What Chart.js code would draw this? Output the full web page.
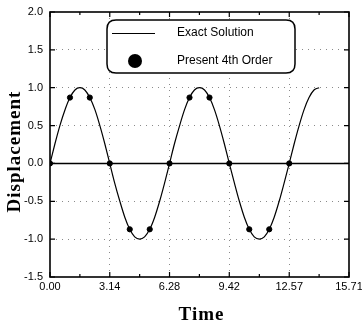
<!DOCTYPE html>
<html>
<head>
<meta charset="utf-8">
<script src="https://cdn.jsdelivr.net/npm/chart.js@4"></script>
<style>
html,body{margin:0;padding:0;background:#fff;}
#wrap{position:relative;width:362px;height:323px;}
</style>
</head>
<body>
<div id="wrap"><canvas id="c" width="362" height="323"></canvas></div>
<script>
// Exact solution curve
const exactTime = [0,0.26,0.52,0.79,1.05,1.31,1.57,1.83,2.09,2.36,2.62,2.88,3.14,3.40,3.67,3.93,4.19,4.45,4.71,4.97,5.24,5.50,5.76,6.02,6.28,6.54,6.81,7.07,7.33,7.59,7.85,8.12,8.38,8.64,8.90,9.16,9.42,9.69,9.95,10.21,10.47,10.73,11.00,11.26,11.52,11.78,12.04,12.30,12.57,12.83,13.09,13.35,13.61,13.87,14.14];
const exactDisp = [0,0.26,0.5,0.71,0.87,0.97,1,0.97,0.87,0.71,0.5,0.26,0,-0.26,-0.5,-0.71,-0.87,-0.97,-1,-0.97,-0.87,-0.71,-0.5,-0.26,0,0.26,0.5,0.71,0.87,0.97,1,0.97,0.87,0.71,0.5,0.26,0,-0.26,-0.5,-0.71,-0.87,-0.97,-1,-0.97,-0.87,-0.71,-0.5,-0.26,0,0.26,0.5,0.71,0.87,0.97,1];
// Present 4th order points
const presentTime = [0,1.05,2.09,3.14,4.19,5.24,6.28,7.33,8.38,9.42,10.47,11.52,12.57];
const presentDisp = [0,0.87,0.87,0,-0.87,-0.87,0,0.87,0.87,0,-0.87,-0.87,0];
// Tick values
const xTicks = [0,3.14,6.28,9.42,12.57,15.71];
const xMinorTicks = [1.57,4.71,7.85,11.0,14.14];
const yTicks = [-1.5,-1.0,-0.5,0.0,0.5,1.0,1.5,2.0];
const seriesLabels = ['Exact Solution','Present 4th Order'];
const xTitle = 'Time';
const yTitle = 'Displacement';

const tickFont = {family:'Liberation Sans, Arial, sans-serif', size:11};
const titleFontCss = 'bold 19px "Liberation Serif", "Times New Roman", serif';

const framePlugin = {
  id:'frame',
  beforeDatasetsDraw(chart){
    const {ctx, chartArea:a, scales:{x,y}} = chart;
    ctx.save();
    ctx.strokeStyle='#000'; ctx.lineWidth=1.6;
    const y0 = y.getPixelForValue(0);
    ctx.beginPath(); ctx.moveTo(a.left,y0); ctx.lineTo(a.right,y0); ctx.stroke();
    ctx.restore();
  },
  afterDraw(chart){
    const {ctx, chartArea:a, scales:{x,y}} = chart;
    ctx.save();
    ctx.strokeStyle='#000';
    ctx.lineWidth=1.6;
    ctx.strokeRect(a.left,a.top,a.right-a.left,a.bottom-a.top);
    ctx.lineWidth=1.2;
    ctx.beginPath();
    xTicks.forEach(v=>{const p=x.getPixelForValue(v); ctx.moveTo(p,a.bottom); ctx.lineTo(p,a.bottom-5); ctx.moveTo(p,a.top); ctx.lineTo(p,a.top+5);});
    xMinorTicks.forEach(v=>{const p=x.getPixelForValue(v); ctx.moveTo(p,a.bottom); ctx.lineTo(p,a.bottom-3); ctx.moveTo(p,a.top); ctx.lineTo(p,a.top+3);});
    yTicks.forEach(v=>{const p=y.getPixelForValue(v); ctx.moveTo(a.left,p); ctx.lineTo(a.left+5,p); ctx.moveTo(a.right,p); ctx.lineTo(a.right-5,p);});
    ctx.stroke();
    // legend
    const bx=107, by=20, bw=188, bh=53, r=9;
    ctx.beginPath();
    ctx.moveTo(bx+r,by); ctx.lineTo(bx+bw-r,by); ctx.quadraticCurveTo(bx+bw,by,bx+bw,by+r);
    ctx.lineTo(bx+bw,by+bh-r); ctx.quadraticCurveTo(bx+bw,by+bh,bx+bw-r,by+bh);
    ctx.lineTo(bx+r,by+bh); ctx.quadraticCurveTo(bx,by+bh,bx,by+bh-r);
    ctx.lineTo(bx,by+r); ctx.quadraticCurveTo(bx,by,bx+r,by);
    ctx.closePath();
    ctx.fillStyle='#fff'; ctx.fill();
    ctx.lineWidth=1.5; ctx.stroke();
    ctx.lineWidth=1;
    ctx.beginPath(); ctx.moveTo(112,33.5); ctx.lineTo(155,33.5); ctx.stroke();
    ctx.beginPath(); ctx.arc(135,61,7,0,Math.PI*2); ctx.fillStyle='#000'; ctx.fill();
    ctx.font='12px "Liberation Sans", Arial, sans-serif';
    ctx.textBaseline='middle'; ctx.textAlign='left';
    ctx.fillText(seriesLabels[0],177,33);
    ctx.fillText(seriesLabels[1],177,61);
    // axis titles
    ctx.font = titleFontCss;
    ctx.textAlign='center'; ctx.textBaseline='alphabetic';
    ctx.letterSpacing = '1px';
    ctx.fillText(xTitle, (a.left+a.right)/2 + 2, 320);
    ctx.letterSpacing = '1px';
    ctx.translate(20, (a.top+a.bottom)/2 + 7);
    ctx.rotate(-Math.PI/2);
    ctx.fillText(yTitle, 0, 0);
    ctx.restore();
  }
};

new Chart(document.getElementById('c'), {
  type:'scatter',
  data:{
    datasets:[
      {label:seriesLabels[0], data:exactTime.map((t,i)=>({x:t,y:exactDisp[i]})), showLine:true, borderColor:'#000', borderWidth:1.2, pointRadius:0, cubicInterpolationMode:'monotone', order:2},
      {label:seriesLabels[1], data:presentTime.map((t,i)=>({x:t,y:presentDisp[i]})), showLine:false, pointRadius:2.6, pointBackgroundColor:'#000', pointBorderColor:'#000', order:1}
    ]
  },
  options:{
    responsive:false, animation:false, devicePixelRatio:1,
    layout:{padding:{top:12,right:13,left:0,bottom:0}},
    plugins:{legend:{display:false}, tooltip:{enabled:false}},
    scales:{
      x:{
        type:'linear', min:0, max:15.71,
        afterBuildTicks(s){ s.ticks = xTicks.map(v=>({value:v})); },
        afterFit(s){ s.height = 46; s.paddingLeft = 0; s.paddingRight = 0; },
        ticks:{color:'#000', font:tickFont, padding:3, maxRotation:0, autoSkip:false, callback:v=>Number(v).toFixed(2)},
        grid:{color:ctx=>(ctx.tick && (ctx.tick.value===0||ctx.tick.value===15.71))?'rgba(0,0,0,0)':'#8a8a8a', lineWidth:1, drawTicks:false},
        border:{display:false, dash:[1,5]},
        title:{display:false}
      },
      y:{
        type:'linear', min:-1.5, max:2.0,
        afterBuildTicks(s){ s.ticks = yTicks.map(v=>({value:v})); },
        afterFit(s){ s.width = 50; s.paddingTop = 0; s.paddingBottom = 0; },
        ticks:{color:'#000', font:tickFont, padding:7, callback:v=>Number(v).toFixed(1)},
        grid:{color:ctx=>(ctx.tick && (ctx.tick.value===0||ctx.tick.value===2||ctx.tick.value===-1.5))?'rgba(0,0,0,0)':'#8a8a8a', lineWidth:1, drawTicks:false},
        border:{display:false, dash:[1,5]},
        title:{display:false}
      }
    }
  },
  plugins:[framePlugin]
});
</script>
</body>
</html>
